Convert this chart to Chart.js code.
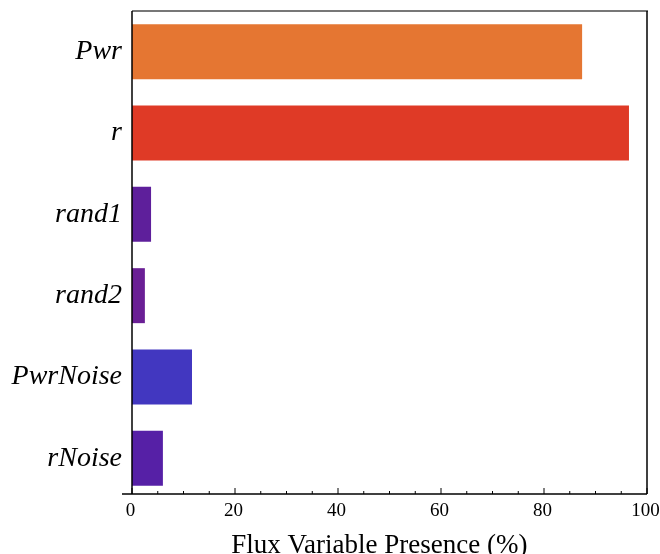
<!DOCTYPE html>
<html>
<head>
<meta charset="utf-8">
<script src="https://cdn.jsdelivr.net/npm/chart.js@4/dist/chart.umd.min.js"></script>
<style>
  html, body { margin: 0; padding: 0; background: #fff; }
  #wrap { width: 660px; height: 554px; }
</style>
</head>
<body>
<div id="wrap"><canvas id="myChart" width="660" height="554"></canvas></div>
<script>
const categories = ["Pwr", "r", "rand1", "rand2", "PwrNoise", "rNoise"];
const presence = [87.4, 96.5, 3.7, 2.5, 11.65, 6.0];
const barColors = ["#e57632", "#df3a26", "#5e1f9b", "#6a1f95", "#4237c0", "#5620a6"];
const xTicks = [0, 20, 40, 60, 80, 100];

// Mathematica-like frame: grey top edge, black left/right, axis line sits a little above the last category edge
const frame = {
  id: "frame",
  afterDraw(chart) {
    const ctx = chart.ctx;
    const a = chart.chartArea;
    const x = chart.scales.x;
    const axisY = a.bottom - 5;
    ctx.save();
    ctx.strokeStyle = "#777";
    ctx.lineWidth = 2;
    ctx.beginPath();
    ctx.moveTo(a.left, a.top);
    ctx.lineTo(a.right + 1, a.top);
    ctx.stroke();
    ctx.strokeStyle = "#000";
    ctx.lineWidth = 1.5;
    ctx.beginPath();
    ctx.moveTo(a.right, a.top);
    ctx.lineTo(a.right, axisY);
    ctx.stroke();
    ctx.beginPath();
    ctx.moveTo(a.left, a.top);
    ctx.lineTo(a.left, axisY);
    ctx.stroke();
    ctx.beginPath();
    ctx.moveTo(a.left - 10, axisY);
    ctx.lineTo(a.right, axisY);
    ctx.stroke();
    ctx.lineWidth = 1;
    for (let v = 0; v <= 100; v += 5) {
      const px = x.getPixelForValue(v);
      const len = v % 20 === 0 ? 6 : 3;
      ctx.beginPath();
      ctx.moveTo(px, axisY);
      ctx.lineTo(px, axisY - len);
      ctx.stroke();
    }
    ctx.restore();
  }
};

const ctx = document.getElementById("myChart").getContext("2d");
new Chart(ctx, {
  type: "bar",
  data: {
    labels: categories,
    datasets: [{
      label: "Flux Variable Presence",
      data: presence,
      backgroundColor: barColors,
      borderWidth: 0,
      barPercentage: 0.676,
      categoryPercentage: 1
    }]
  },
  options: {
    indexAxis: "y",
    responsive: false,
    animation: false,
    layout: { padding: { top: 11, right: 13, left: 0, bottom: 0 } },
    plugins: { legend: { display: false }, tooltip: { enabled: false } },
    scales: {
      x: {
        min: 0,
        max: 100,
        afterBuildTicks(scale) {
          scale.ticks = xTicks.map(v => ({ value: v }));
        },
        afterFit(scale) {
          scale.height = 55;
          scale.paddingLeft = 0;
          scale.paddingRight = 0;
        },
        grid: { display: false, drawTicks: false, tickLength: 0 },
        border: { display: false },
        ticks: {
          color: "#000",
          padding: 1,
          labelOffset: -1.5,
          maxRotation: 0,
          font: { family: "Liberation Serif", size: 19 }
        },
        title: {
          display: true,
          // trailing spaces nudge the centred title left, as in the original
          text: "Flux Variable Presence (%)\u2002 ",
          color: "#000",
          padding: { top: 0, bottom: -8 },
          font: { family: "Liberation Serif", size: 27 }
        }
      },
      y: {
        afterFit(scale) {
          scale.width = 132;
          scale.paddingTop = 0;
          scale.paddingBottom = 0;
        },
        grid: { display: false, drawTicks: false, tickLength: 0 },
        border: { display: false },
        ticks: {
          color: "#000",
          padding: 10,
          font: { family: "Liberation Serif", size: 28, style: "italic" }
        }
      }
    }
  },
  plugins: [frame]
});
</script>
</body>
</html>
